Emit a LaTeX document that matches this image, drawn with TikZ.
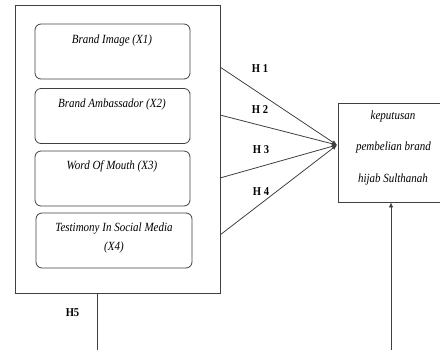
\documentclass[tikz,border=0pt]{standalone}
\usepackage{fontspec}
\setmainfont{Liberation Serif}
\newfontfamily\tnr[FakeStretch=0.88]{Liberation Serif}
\usetikzlibrary{arrows.meta}
\tikzset{
  frame/.style={draw=black!75, line width=0.8pt, rectangle, inner sep=0pt},
  varbox/.style={draw=black!75, line width=0.8pt, rectangle, rounded corners=6pt, inner sep=0pt, minimum width=155pt, minimum height=55pt},
  vtext/.style={font=\tnr\fontsize{12.5}{15}\selectfont\itshape, inner sep=0pt, text=black},
  hlab/.style={font=\tnr\fontsize{12}{14}\selectfont\bfseries, inner sep=0pt, text=black},
  conn/.style={draw=black!75, line width=0.8pt},
  arr/.style={conn, -{Latex[length=5pt,width=4.5pt]}}
}
\begin{document}
\begin{tikzpicture}[x=1pt,y=-1pt]
\useasboundingbox (0,0) rectangle (440,349);
\clip (0,0) rectangle (440,349);
% outer frame
\node[frame, minimum width=205pt, minimum height=288pt] (outer) at (117.5,149) {};
% variable boxes
\node[varbox] (b1) at (112.5,51.5) {};
\node[varbox] (b2) at (112.5,116) {};
\node[varbox] (b3) at (112.5,178.5) {};
\node[varbox, minimum width=156pt] (b4) at (114,240.5) {};
\node[vtext] (x1) at (112,40) {Brand Image (X1)};
\node[vtext] (x2) at (112,104) {Brand Ambassador (X2)};
\node[vtext] (x3) at (112,166.5) {Word Of Mouth (X3)};
\node[vtext] (x4a) at (114,229) {Testimony In Social Media};
\node[vtext] (x4b) at (114,247) {(X4)};
% dependent variable box
\node[frame, minimum width=114pt, minimum height=99pt] (dv) at (395,152.5) {};
\node[vtext] (d1) at (393,116) {keputusan};
\node[vtext] (d2) at (393.5,147) {pembelian brand};
\node[vtext] (d3) at (393,179) {hijab Sulthanah};
% connectors
\coordinate (s1) at (220,67);
\coordinate (s2) at (220,115);
\coordinate (s3) at (220,178);
\coordinate (s4) at (220,235);
\coordinate (conv) at (337,145);
\draw[arr] (s1) -- (conv);
\draw[arr] (s2) -- (conv);
\draw[arr] (s3) -- (conv);
\draw[arr] (s4) -- (conv);
\node[hlab] (h1) at (260,69) {H 1};
\node[hlab] (h2) at (260,110) {H 2};
\node[hlab] (h3) at (261,150) {H 3};
\node[hlab] (h4) at (261,192) {H 4};
% H5
\coordinate (h5top) at (97,293);
\coordinate (h5bot) at (97,352);
\draw[conn] (h5top) -- (h5bot);
\node[hlab] (h5) at (72.5,313) {H5};
\coordinate (upstart) at (391,352);
\draw[arr] (upstart) -- (dv.south -| upstart);
\end{tikzpicture}
\end{document}
